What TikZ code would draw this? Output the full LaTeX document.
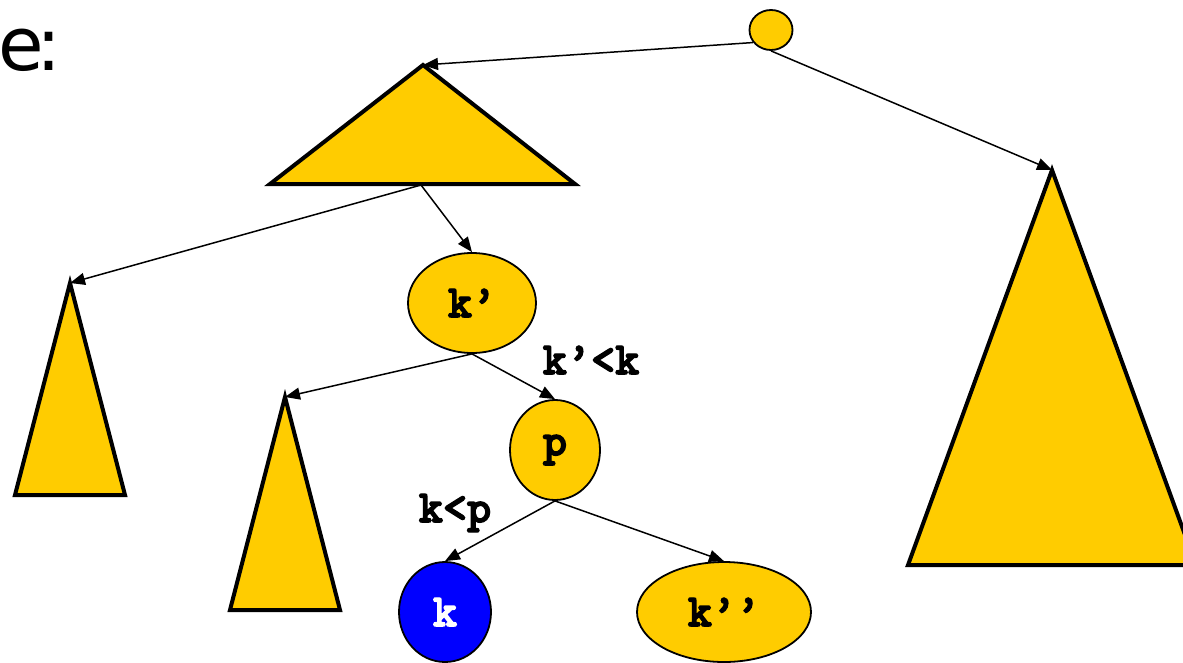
\documentclass[tikz,border=0pt]{standalone}
\usepackage{fontspec}
\usetikzlibrary{shapes.geometric,arrows.meta}
\newfontfamily\sansf{DejaVu Sans}
\newfontfamily\monob{lmmonolt10-bold.otf}[FakeBold=3]
\definecolor{gold}{HTML}{FFCC00}
\definecolor{kblue}{HTML}{0000FF}
\begin{document}
\begin{tikzpicture}[x=1pt,y=-1pt,
  tri/.style={fill=gold,draw=black,line width=4pt,line join=miter},
  bnode/.style={ellipse,fill=gold,draw=black,line width=1.8pt,inner sep=0pt,font=\monob\fontsize{46}{46}\selectfont},
  conn/.style={line width=1.5pt,-{Triangle[length=15pt,width=12pt]}},
  lbl/.style={font=\monob\fontsize{46}{46}\selectfont,inner sep=0pt}]
\useasboundingbox (0,0) rectangle (1183,662);
\clip (0,0) rectangle (1183,662);
\node[anchor=base west,font=\sansf\fontsize{74}{74}\selectfont,inner sep=0pt] (title) at (-2,70) {e\kern-7pt:};
% triangles
\coordinate (t1a) at (423,65);
\coordinate (t1b) at (421,185);
\filldraw[tri] (t1a) -- (270,184) -- (575,184) -- cycle;
\coordinate (t2a) at (1052,170);
\filldraw[tri] (t2a) -- (908,565) -- (1196,565) -- cycle;
\coordinate (t3a) at (70,283);
\filldraw[tri] (t3a) -- (15,495) -- (125,495) -- cycle;
\coordinate (t4a) at (285,397);
\filldraw[tri] (t4a) -- (230,610) -- (340,610) -- cycle;
% nodes
\node[bnode,minimum width=43pt,minimum height=40pt] (root) at (771,30) {};
\node[bnode,minimum width=128pt,minimum height=100pt] (k1) at (472,303) {k’};
\node[bnode,minimum width=90pt,minimum height=100pt] (p) at (555,450) {p};
\node[bnode,fill=kblue,text=white,minimum width=92pt,minimum height=100pt] (k) at (445,612) {k};
\node[bnode,minimum width=174pt,minimum height=100pt] (k2) at (724,612) {k’’};
% labels
\node[lbl] (l1) at (591,360) {k’<k};
\node[lbl] (l2) at (455,513) {k<p};
% connectors
\draw[conn] (root.215) -- (t1a);
\draw[conn] (root.south) -- (t2a);
\draw[conn] (t1b) -- (t3a);
\draw[conn] (t1b) -- (k1.north);
\draw[conn] (k1.south) -- (t4a);
\draw[conn] (k1.south) -- (p.north);
\draw[conn] (p.south) -- (k.north);
\draw[conn] (p.south) -- (k2.north);
\end{tikzpicture}
\end{document}
